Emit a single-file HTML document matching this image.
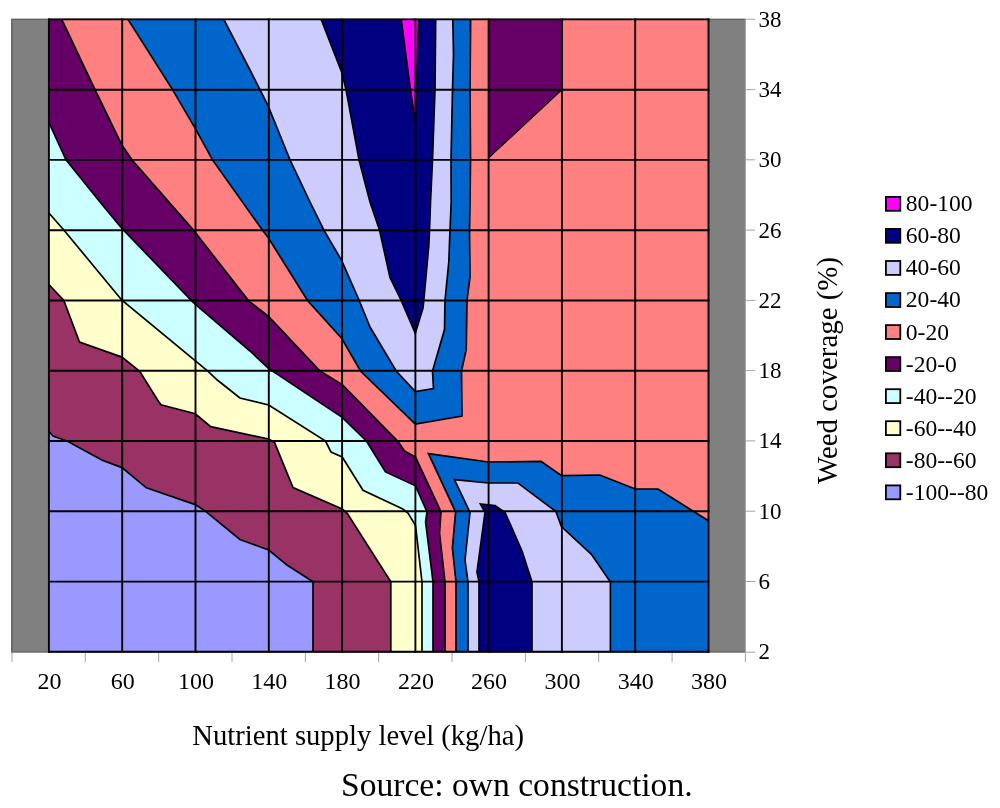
<!DOCTYPE html>
<html><head><meta charset="utf-8"><title>Contour chart</title>
<style>html,body{margin:0;padding:0;background:#fff}body{width:1000px;height:808px;position:relative;overflow:hidden}</style>
</head><body>
<svg width="1000" height="808" viewBox="0 0 1000 808" style="position:absolute;left:0;top:0">
<rect x="11.2" y="18.8" width="734.4" height="633.7" fill="#808080"/>
<path d="M11.9,652.5 V19.4 H745.6" fill="none" stroke="#606060" stroke-width="1.4"/>
<line x1="11.2" y1="651.9" x2="745.6" y2="651.9" stroke="#6c6c6c" stroke-width="1.3"/>
<g stroke="#a4a4a4" stroke-width="1" fill="none">
<line x1="745.4" y1="19.4" x2="745.4" y2="662.0"/>
<line x1="12.0" y1="652.5" x2="12.0" y2="662.0"/>
<line x1="85.3" y1="652.5" x2="85.3" y2="662.0"/>
<line x1="158.7" y1="652.5" x2="158.7" y2="662.0"/>
<line x1="232.0" y1="652.5" x2="232.0" y2="662.0"/>
<line x1="305.4" y1="652.5" x2="305.4" y2="662.0"/>
<line x1="378.7" y1="652.5" x2="378.7" y2="662.0"/>
<line x1="452.0" y1="652.5" x2="452.0" y2="662.0"/>
<line x1="525.4" y1="652.5" x2="525.4" y2="662.0"/>
<line x1="598.7" y1="652.5" x2="598.7" y2="662.0"/>
<line x1="672.1" y1="652.5" x2="672.1" y2="662.0"/>
<line x1="745.4" y1="19.3" x2="755.2" y2="19.3"/>
<line x1="745.4" y1="89.6" x2="755.2" y2="89.6"/>
<line x1="745.4" y1="159.8" x2="755.2" y2="159.8"/>
<line x1="745.4" y1="230.1" x2="755.2" y2="230.1"/>
<line x1="745.4" y1="300.4" x2="755.2" y2="300.4"/>
<line x1="745.4" y1="370.6" x2="755.2" y2="370.6"/>
<line x1="745.4" y1="440.9" x2="755.2" y2="440.9"/>
<line x1="745.4" y1="511.2" x2="755.2" y2="511.2"/>
<line x1="745.4" y1="581.5" x2="755.2" y2="581.5"/>
<line x1="745.4" y1="652.2" x2="755.2" y2="652.2"/>
</g>
<rect x="48.9" y="19.4" width="659.6" height="632.4" fill="#FF8080"/>
<polygon points="48.9,19.4 61.7,19.4 95.0,89.6 122.0,145.3 132.5,160.5 193.0,229.6 248.6,300.8 268.5,316.5 320.0,371.0 342.2,384.6 397.6,441.0 404.6,451.0 415.5,457.0 441.0,511.8 439.5,533.0 445.0,582.0 445.0,651.8 48.9,651.8" fill="#660066"/>
<polyline points="61.7,19.4 95.0,89.6 122.0,145.3 132.5,160.5 193.0,229.6 248.6,300.8 268.5,316.5 320.0,371.0 342.2,384.6 397.6,441.0 404.6,451.0 415.5,457.0 441.0,511.8 439.5,533.0 445.0,582.0 445.0,651.8" fill="none" stroke="#000" stroke-width="1.7" stroke-miterlimit="10"/>
<polygon points="48.9,122.5 66.0,159.9 100.0,202.0 121.9,228.4 191.7,300.8 195.4,304.4 250.0,351.0 268.5,368.4 342.2,417.4 366.4,441.0 385.5,471.9 415.5,485.8 427.0,511.8 425.6,522.0 433.0,582.0 433.0,651.8 48.9,651.8" fill="#CCFFFF"/>
<polyline points="48.9,122.5 66.0,159.9 100.0,202.0 121.9,228.4 191.7,300.8 195.4,304.4 250.0,351.0 268.5,368.4 342.2,417.4 366.4,441.0 385.5,471.9 415.5,485.8 427.0,511.8 425.6,522.0 433.0,582.0 433.0,651.8" fill="none" stroke="#000" stroke-width="1.7" stroke-miterlimit="10"/>
<polygon points="48.9,213.0 63.8,230.0 121.9,300.2 195.4,360.8 207.8,371.2 217.3,380.0 239.9,398.0 268.7,405.0 325.5,441.0 331.0,452.0 342.2,457.0 363.0,490.3 402.8,509.0 408.0,513.0 415.5,525.6 422.0,582.0 422.0,651.8 48.9,651.8" fill="#FFFFCC"/>
<polyline points="48.9,213.0 63.8,230.0 121.9,300.2 195.4,360.8 207.8,371.2 217.3,380.0 239.9,398.0 268.7,405.0 325.5,441.0 331.0,452.0 342.2,457.0 363.0,490.3 402.8,509.0 408.0,513.0 415.5,525.6 422.0,582.0 422.0,651.8" fill="none" stroke="#000" stroke-width="1.7" stroke-miterlimit="10"/>
<polygon points="48.9,284.5 63.8,300.5 79.5,342.0 121.9,357.1 139.7,371.2 157.6,400.0 160.9,404.8 195.3,413.8 210.7,426.7 268.7,439.0 274.5,442.4 293.0,487.5 342.2,509.0 347.4,513.5 390.8,581.8 390.8,651.8 48.9,651.8" fill="#993366"/>
<polyline points="48.9,284.5 63.8,300.5 79.5,342.0 121.9,357.1 139.7,371.2 157.6,400.0 160.9,404.8 195.3,413.8 210.7,426.7 268.7,439.0 274.5,442.4 293.0,487.5 342.2,509.0 347.4,513.5 390.8,581.8 390.8,651.8" fill="none" stroke="#000" stroke-width="1.7" stroke-miterlimit="10"/>
<polygon points="48.9,431.5 53.0,436.0 67.5,441.2 102.3,460.2 122.0,467.6 146.4,487.8 195.3,504.6 206.0,511.6 239.9,539.5 268.7,550.0 287.0,565.0 313.0,581.8 313.0,651.8 48.9,651.8" fill="#9999FF"/>
<polyline points="48.9,431.5 53.0,436.0 67.5,441.2 102.3,460.2 122.0,467.6 146.4,487.8 195.3,504.6 206.0,511.6 239.9,539.5 268.7,550.0 287.0,565.0 313.0,581.8 313.0,651.8" fill="none" stroke="#000" stroke-width="1.7" stroke-miterlimit="10"/>
<polygon points="128.0,19.4 172.5,89.6 195.5,128.8 212.5,159.9 262.0,229.6 268.5,238.0 307.5,300.5 341.8,338.5 360.5,371.0 415.3,424.0 462.0,416.0 461.5,371.0 466.2,349.5 467.0,300.5 470.0,277.0 469.5,230.0 470.0,202.0 470.5,159.9 470.0,89.6 470.6,19.4" fill="#0066CC"/>
<polyline points="128.0,19.4 172.5,89.6 195.5,128.8 212.5,159.9 262.0,229.6 268.5,238.0 307.5,300.5 341.8,338.5 360.5,371.0 415.3,424.0 462.0,416.0 461.5,371.0 466.2,349.5 467.0,300.5 470.0,277.0 469.5,230.0 470.0,202.0 470.5,159.9 470.0,89.6 470.6,19.4" fill="none" stroke="#000" stroke-width="1.7" stroke-miterlimit="10"/>
<polygon points="223.8,19.4 250.0,70.0 268.0,105.5 290.0,159.9 310.0,202.0 323.8,230.0 341.8,260.8 359.2,300.5 370.0,327.0 396.2,371.0 415.3,391.5 433.5,388.5 432.5,371.0 444.5,329.5 445.0,300.5 448.8,262.0 450.0,230.0 451.2,202.0 451.0,159.9 452.5,89.6 453.5,54.0 452.8,19.4" fill="#CCCCFF"/>
<polyline points="223.8,19.4 250.0,70.0 268.0,105.5 290.0,159.9 310.0,202.0 323.8,230.0 341.8,260.8 359.2,300.5 370.0,327.0 396.2,371.0 415.3,391.5 433.5,388.5 432.5,371.0 444.5,329.5 445.0,300.5 448.8,262.0 450.0,230.0 451.2,202.0 451.0,159.9 452.5,89.6 453.5,54.0 452.8,19.4" fill="none" stroke="#000" stroke-width="1.7" stroke-miterlimit="10"/>
<polygon points="321.2,19.4 341.8,72.5 346.0,89.6 359.0,159.9 370.0,202.0 379.5,230.0 390.0,277.5 401.2,300.5 415.3,333.2 423.0,308.2 423.8,300.5 428.8,245.8 429.5,230.0 430.5,202.0 432.5,159.9 435.0,89.6 435.7,19.4" fill="#000080"/>
<polyline points="321.2,19.4 341.8,72.5 346.0,89.6 359.0,159.9 370.0,202.0 379.5,230.0 390.0,277.5 401.2,300.5 415.3,333.2 423.0,308.2 423.8,300.5 428.8,245.8 429.5,230.0 430.5,202.0 432.5,159.9 435.0,89.6 435.7,19.4" fill="none" stroke="#000" stroke-width="1.7" stroke-miterlimit="10"/>
<polygon points="401.2,19.4 410.4,89.7 415.2,123.0 416.6,80.0 418.8,19.4" fill="#FF00FF"/>
<polyline points="401.2,19.4 410.4,89.7 415.2,123.0 416.6,80.0 418.8,19.4" fill="none" stroke="#000" stroke-width="1.7" stroke-miterlimit="10"/>
<polygon points="428.4,453.6 488.4,462.0 541.0,461.4 561.6,475.6 599.8,475.0 635.2,489.0 658.0,489.0 708.5,520.8 708.5,651.8 456.0,651.8 456.0,582.0 452.4,548.0 455.6,512.0" fill="#0066CC"/>
<polyline points="456.0,651.8 456.0,582.0 452.4,548.0 455.6,512.0 428.4,453.6 488.4,462.0 541.0,461.4 561.6,475.6 599.8,475.0 635.2,489.0 658.0,489.0 708.5,520.8" fill="none" stroke="#000" stroke-width="1.7" stroke-miterlimit="10"/>
<polygon points="454.4,479.6 488.4,483.0 518.0,483.0 556.0,511.6 561.4,526.5 591.4,554.3 610.4,582.0 610.4,651.8 468.0,651.8 468.0,582.0 465.0,560.0 470.0,512.4" fill="#CCCCFF"/>
<polyline points="468.0,651.8 468.0,582.0 465.0,560.0 470.0,512.4 454.4,479.6 488.4,483.0 518.0,483.0 556.0,511.6 561.4,526.5 591.4,554.3 610.4,582.0 610.4,651.8" fill="none" stroke="#000" stroke-width="1.7" stroke-miterlimit="10"/>
<polygon points="480.4,504.0 495.0,505.6 505.0,512.4 522.0,551.0 532.0,582.0 532.0,651.8 479.0,651.8 479.0,582.0 477.0,572.0 485.0,512.4" fill="#000080"/>
<polyline points="479.0,651.8 479.0,582.0 477.0,572.0 485.0,512.4 480.4,504.0 495.0,505.6 505.0,512.4 522.0,551.0 532.0,582.0 532.0,651.8" fill="none" stroke="#000" stroke-width="1.7" stroke-miterlimit="10"/>
<polygon points="488.6,19.4 561.9,19.4 561.9,89.7 488.6,158.0" fill="#660066"/>
<polyline points="561.9,19.4 561.9,89.7 488.6,158.0 488.6,19.4" fill="none" stroke="#000" stroke-width="1.1" stroke-miterlimit="10"/>
<g stroke="#000" stroke-width="1.9" fill="none" stroke-linecap="square">
<line x1="48.9" y1="19.4" x2="48.9" y2="651.8"/>
<line x1="122.2" y1="19.4" x2="122.2" y2="651.8"/>
<line x1="195.5" y1="19.4" x2="195.5" y2="651.8"/>
<line x1="268.8" y1="19.4" x2="268.8" y2="651.8"/>
<line x1="342.1" y1="19.4" x2="342.1" y2="651.8"/>
<line x1="415.4" y1="19.4" x2="415.4" y2="651.8"/>
<line x1="488.6" y1="19.4" x2="488.6" y2="651.8"/>
<line x1="561.9" y1="19.4" x2="561.9" y2="651.8"/>
<line x1="635.2" y1="19.4" x2="635.2" y2="651.8"/>
<line x1="708.5" y1="19.4" x2="708.5" y2="651.8"/>
<line x1="48.9" y1="19.4" x2="708.5" y2="19.4"/>
<line x1="48.9" y1="89.7" x2="708.5" y2="89.7"/>
<line x1="48.9" y1="159.9" x2="708.5" y2="159.9"/>
<line x1="48.9" y1="230.2" x2="708.5" y2="230.2"/>
<line x1="48.9" y1="300.5" x2="708.5" y2="300.5"/>
<line x1="48.9" y1="370.7" x2="708.5" y2="370.7"/>
<line x1="48.9" y1="441.0" x2="708.5" y2="441.0"/>
<line x1="48.9" y1="511.3" x2="708.5" y2="511.3"/>
<line x1="48.9" y1="581.6" x2="708.5" y2="581.6"/>
<line x1="48.9" y1="651.8" x2="708.5" y2="651.8"/>
</g>
<g font-family="'Liberation Serif', 'Times New Roman', serif" fill="#000">
<text x="49.4" y="689.3" font-size="24" text-anchor="middle">20</text>
<text x="122.7" y="689.3" font-size="24" text-anchor="middle">60</text>
<text x="196.0" y="689.3" font-size="24" text-anchor="middle">100</text>
<text x="269.3" y="689.3" font-size="24" text-anchor="middle">140</text>
<text x="342.6" y="689.3" font-size="24" text-anchor="middle">180</text>
<text x="415.9" y="689.3" font-size="24" text-anchor="middle">220</text>
<text x="489.1" y="689.3" font-size="24" text-anchor="middle">260</text>
<text x="562.4" y="689.3" font-size="24" text-anchor="middle">300</text>
<text x="635.7" y="689.3" font-size="24" text-anchor="middle">340</text>
<text x="709.0" y="689.3" font-size="24" text-anchor="middle">380</text>
<text x="758.5" y="26.8" font-size="23">38</text>
<text x="758.5" y="97.1" font-size="23">34</text>
<text x="758.5" y="167.3" font-size="23">30</text>
<text x="758.5" y="237.6" font-size="23">26</text>
<text x="758.5" y="307.9" font-size="23">22</text>
<text x="758.5" y="378.1" font-size="23">18</text>
<text x="758.5" y="448.4" font-size="23">14</text>
<text x="758.5" y="518.7" font-size="23">10</text>
<text x="758.5" y="589.0" font-size="23">6</text>
<text x="758.5" y="659.2" font-size="23">2</text>
<text x="192.3" y="745" font-size="28.65">Nutrient supply level (kg/ha)</text>
<text x="341" y="796" font-size="33.6">Source: own construction.</text>
<text transform="translate(837,484) rotate(-90)" font-size="28.9">Weed coverage (%)</text>
<rect x="885.9" y="196.9" width="14.4" height="13.9" fill="#FF00FF" stroke="#000" stroke-width="1.8"/>
<text x="905.8" y="211.3" font-size="23.6">80-100</text>
<rect x="885.9" y="228.9" width="14.4" height="13.9" fill="#000080" stroke="#000" stroke-width="1.8"/>
<text x="905.8" y="243.3" font-size="23.6">60-80</text>
<rect x="885.9" y="261.0" width="14.4" height="13.9" fill="#CCCCFF" stroke="#000" stroke-width="1.8"/>
<text x="905.8" y="275.4" font-size="23.6">40-60</text>
<rect x="885.9" y="293.1" width="14.4" height="13.9" fill="#0066CC" stroke="#000" stroke-width="1.8"/>
<text x="905.8" y="307.4" font-size="23.6">20-40</text>
<rect x="885.9" y="325.1" width="14.4" height="13.9" fill="#FF8080" stroke="#000" stroke-width="1.8"/>
<text x="905.8" y="339.5" font-size="23.6">0-20</text>
<rect x="885.9" y="357.1" width="14.4" height="13.9" fill="#660066" stroke="#000" stroke-width="1.8"/>
<text x="905.8" y="371.5" font-size="23.6">-20-0</text>
<rect x="885.9" y="389.2" width="14.4" height="13.9" fill="#CCFFFF" stroke="#000" stroke-width="1.8"/>
<text x="905.8" y="403.6" font-size="23.6">-40--20</text>
<rect x="885.9" y="421.2" width="14.4" height="13.9" fill="#FFFFCC" stroke="#000" stroke-width="1.8"/>
<text x="905.8" y="435.6" font-size="23.6">-60--40</text>
<rect x="885.9" y="453.3" width="14.4" height="13.9" fill="#993366" stroke="#000" stroke-width="1.8"/>
<text x="905.8" y="467.7" font-size="23.6">-80--60</text>
<rect x="885.9" y="485.4" width="14.4" height="13.9" fill="#9999FF" stroke="#000" stroke-width="1.8"/>
<text x="905.8" y="499.8" font-size="23.6">-100--80</text>
</g>
</svg>
</body></html>
